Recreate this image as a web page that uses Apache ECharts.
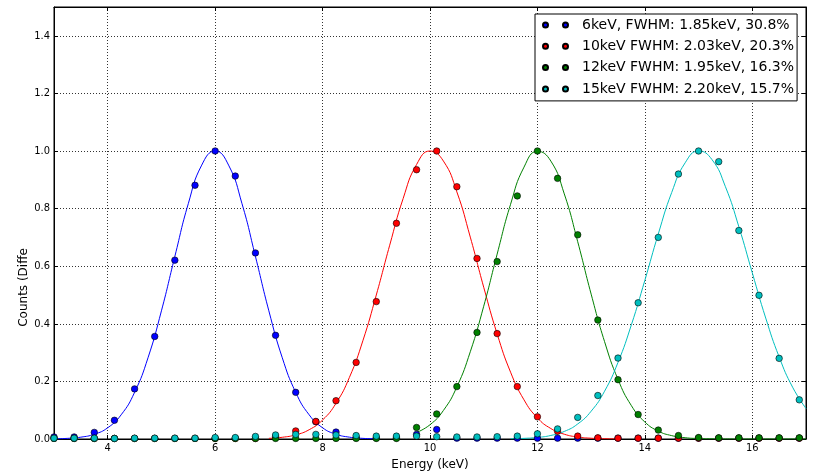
<!DOCTYPE html>
<html>
<head>
<meta charset="utf-8">
<script src="https://cdn.jsdelivr.net/npm/echarts@6/dist/echarts.min.js"></script>
<style>html,body{margin:0;padding:0;background:#fff}#c{width:817px;height:471px}</style>
</head>
<body>
<div id="c"></div>
<script>
// Bin centres (keV) of the measured points
const energy = [3.0,3.375,3.75,4.125,4.5,4.875,5.25,5.625,6.0,6.375,6.75,7.125,7.5,7.875,8.25,8.625,9.0,9.375,9.75,10.125,10.5,10.875,11.25,11.625,12.0,12.375,12.75,13.125,13.5,13.875,14.25,14.625,15.0,15.375,15.75,16.125,16.5,16.875];
const counts6 = [0.007,0.007,0.023,0.065,0.174,0.356,0.621,0.881,1.0,0.913,0.646,0.360,0.162,0.060,0.024,0.006,0.004,0.004,0.016,0.033,0.003,0.003,0.003,0.003,0.003,0.003,0.003,0.003,0.003,0.003,0.003,0.003,0.003,0.003,0.003,0.003,0.003,0.003];
const counts10 = [0.002,0.002,0.002,0.002,0.002,0.002,0.002,0.002,0.002,0.002,0.002,0.008,0.028,0.061,0.133,0.266,0.477,0.749,0.935,1.0,0.876,0.627,0.366,0.182,0.077,0.027,0.010,0.004,0.003,0.003,0.003,0.003,0.003,0.003,0.003,0.003,0.003,0.003];
const counts12 = [0.002,0.002,0.002,0.002,0.002,0.002,0.002,0.002,0.002,0.002,0.002,0.002,0.002,0.002,0.002,0.002,0.002,0.002,0.040,0.087,0.182,0.370,0.616,0.844,1.0,0.905,0.709,0.413,0.206,0.085,0.031,0.012,0.005,0.004,0.004,0.004,0.004,0.004];
const counts15 = [0.003,0.003,0.003,0.002,0.003,0.003,0.003,0.003,0.005,0.005,0.009,0.014,0.016,0.016,0.014,0.012,0.010,0.010,0.010,0.008,0.007,0.007,0.008,0.010,0.018,0.035,0.075,0.151,0.281,0.473,0.700,0.920,1.0,0.963,0.724,0.499,0.280,0.136];

// Fitted curves
const fit6X = [3.0,3.25,3.5,3.75,4.0,4.25,4.5,4.75,5.0,5.25,5.5,5.75,6.0,6.25,6.5,6.75,7.0,7.25,7.5,7.75,8.0,8.25,8.5,8.75,9.0];
const fit6Y = [0.0007,0.0022,0.0064,0.0166,0.039,0.084,0.162,0.282,0.445,0.634,0.817,0.951,1.0,0.951,0.817,0.634,0.445,0.282,0.162,0.084,0.039,0.0166,0.0064,0.0022,0.0007];
const fit10X = [7.0,7.25,7.5,7.75,8.0,8.25,8.5,8.75,9.0,9.25,9.5,9.75,10.0,10.25,10.5,10.75,11.0,11.25,11.5,11.75,12.0,12.25,12.5,12.75,13.0,13.25,13.5];
const fit10Y = [0.0023,0.0060,0.0145,0.0322,0.0659,0.124,0.214,0.341,0.500,0.673,0.835,0.953,1.0,0.965,0.858,0.701,0.527,0.365,0.232,0.136,0.0733,0.0363,0.0166,0.0070,0.0027,0.00095,0.0003];
const fit12X = [9.75,10.0,10.25,10.5,10.75,11.0,11.25,11.5,11.75,12.0,12.25,12.5,12.75,13.0,13.25,13.5,13.75,14.0,14.25,14.5,14.75,15.0,15.25,15.5,15.75,16.0,16.25,16.5,16.75,17.0];
const fit12Y = [0.0226,0.0495,0.0992,0.181,0.303,0.461,0.642,0.815,0.944,0.999,0.965,0.851,0.685,0.503,0.338,0.207,0.1156,0.059,0.0275,0.0117,0.0045,0.0016,0.0005,0.0001,0,0,0,0,0,0];
const fit15X = [11.5,11.75,12.0,12.25,12.5,12.75,13.0,13.25,13.5,13.75,14.0,14.25,14.5,14.75,15.0,15.25,15.5,15.75,16.0,16.25,16.5,16.75,17.0];
const fit15Y = [0.0008,0.0022,0.0054,0.0123,0.0263,0.0522,0.0965,0.166,0.266,0.397,0.551,0.712,0.856,0.959,1.0,0.970,0.876,0.737,0.577,0.420,0.285,0.180,0.106];

const names = ['6keV, FWHM: 1.85keV, 30.8%','10keV FWHM: 2.03keV, 20.3%','12keV FWHM: 1.95keV, 16.3%','15keV FWHM: 2.20keV, 15.7%'];
const xTicks = [4,6,8,10,12,14,16];
const yTicks = [0,0.2,0.4,0.6,0.8,1.0,1.2,1.4];
const titleText = 'CsI HGI Ikrum = 3';
const xName = 'Energy (keV)';
const yName = 'Counts (Diffe';

const colors = ['#0000ff','#ff0000','#008000','#00bfbf'];
const dots = [counts6,counts10,counts12,counts15];
const fitsX = [fit6X,fit10X,fit12X,fit15X];
const fitsY = [fit6Y,fit10Y,fit12Y,fit15Y];

const pair = (xs, ys) => xs.map((x,i)=>[x, ys[i]]);
const tickFont = "'DejaVu Sans Condensed','DejaVu Sans'";

const series = [];
for (let k = 0; k < 4; k++) {
  series.push({
    type:'line', data: pair(fitsX[k], fitsY[k]), showSymbol:false, symbol:'none',
    smooth:0.5, lineStyle:{color:colors[k], width:1}, silent:true, z:2
  });
  series.push({
    type:'scatter', name:names[k], data: pair(energy, dots[k]), symbol:'circle', symbolSize:6.5,
    itemStyle:{color:colors[k], borderColor:'#000', borderWidth:0.6, opacity:1}, z:3
  });
}

const chart = echarts.init(document.getElementById('c'), null, {renderer:'canvas'});
const baseAxis = {
  type:'value',
  axisLine:{show:true, onZero:false, lineStyle:{color:'#000', width:1}},
  axisTick:{show:true, inside:true, length:4, lineStyle:{color:'#000', width:1}},
};
chart.setOption({
  animation:false,
  backgroundColor:'#fff',
  grid:{left:54, right:11, top:7, bottom:32, show:true, borderColor:'#000', borderWidth:1, backgroundColor:'#fff',
        containLabel:false, outerBoundsMode:'none'},
  legend:{
    show:true, orient:'vertical', left:535, top:14,
    data:names,
    padding:[4,3,5,7],
    itemGap:7.3, itemWidth:25, itemHeight:5,
    icon:'path://M0,2.5a2.5,2.5 0 1,0 5,0a2.5,2.5 0 1,0 -5,0M20,2.5a2.5,2.5 0 1,0 5,0a2.5,2.5 0 1,0 -5,0',
    backgroundColor:'#fff', borderColor:'#000', borderWidth:1, borderRadius:0,
    textStyle:{fontFamily:'DejaVu Sans', fontSize:14, color:'#000', lineHeight:14, padding:[0,0,0,9]},
    selectedMode:false
  },
  xAxis:[
    Object.assign({}, baseAxis, {
      min:3, max:17, position:'bottom',
      axisTick:Object.assign({}, baseAxis.axisTick, {customValues:xTicks}),
      axisLabel:{customValues:xTicks, color:'#000', fontFamily:tickFont, fontSize:11, margin:4},
      splitLine:{show:true, lineStyle:{color:'#333', width:1, type:[1,2]}},
      name:xName, nameLocation:'middle', nameGap:15,
      nameTextStyle:{fontFamily:'DejaVu Sans', fontSize:12, color:'#000'}
    }),
    Object.assign({}, baseAxis, {
      min:3, max:17, position:'top',
      axisTick:Object.assign({}, baseAxis.axisTick, {customValues:xTicks}),
      axisLabel:{show:false}, splitLine:{show:false}
    })
  ],
  yAxis:[
    Object.assign({}, baseAxis, {
      min:0, max:1.5, position:'left',
      axisTick:Object.assign({}, baseAxis.axisTick, {customValues:yTicks}),
      axisLabel:{customValues:yTicks, color:'#000', fontFamily:tickFont, fontSize:11, margin:4,
        formatter:v=>Number(v).toFixed(1)},
      splitLine:{show:true, lineStyle:{color:'#333', width:1, type:[1,2]}}
    }),
    Object.assign({}, baseAxis, {
      min:0, max:1.5, position:'right',
      axisTick:Object.assign({}, baseAxis.axisTick, {customValues:yTicks}),
      axisLabel:{show:false}, splitLine:{show:false}
    })
  ],
  graphic:[
    {type:'text', x:424, y:-5, silent:true,
     style:{text:titleText, font:"15px 'DejaVu Sans'", fill:'#000', align:'center', verticalAlign:'middle'}},
    {type:'text', x:23.5, y:287.5, rotation:Math.PI/2, silent:true,
     style:{text:yName, font:"12px 'DejaVu Sans'", fill:'#000', align:'center', verticalAlign:'middle'}}
  ],
  series:series
});
</script>
</body>
</html>
